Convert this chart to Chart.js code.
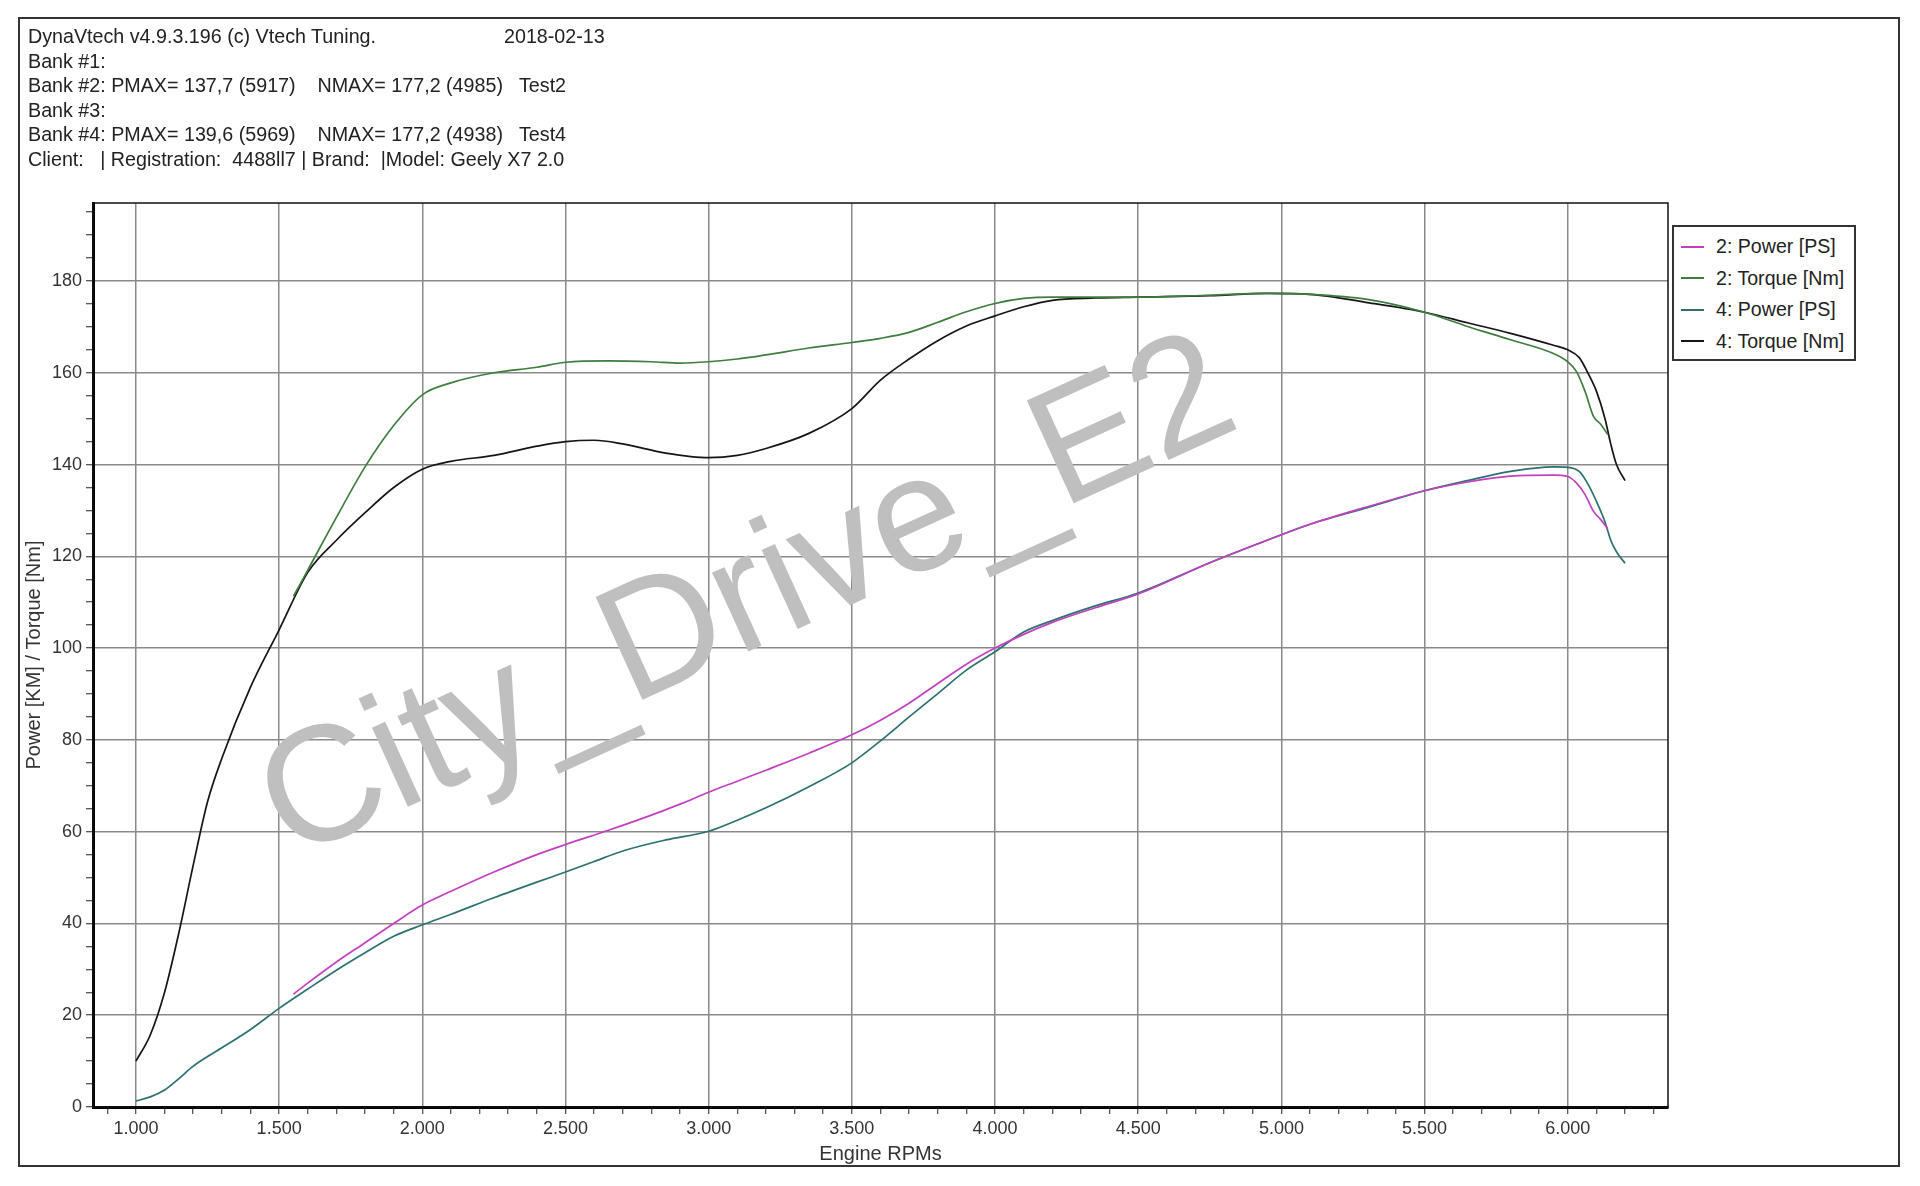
<!DOCTYPE html>
<html>
<head>
<meta charset="utf-8">
<script src="https://cdn.jsdelivr.net/npm/chart.js@4.4.1/dist/chart.umd.min.js"></script>
<style>
  html, body { margin: 0; padding: 0; background: #fff; }
  body { width: 1920px; height: 1186px; position: relative; overflow: hidden;
         font-family: "Liberation Sans", Arial, sans-serif; color: #222; }
  #frame { position: absolute; left: 18px; top: 17px; width: 1882px; height: 1150px;
           border: 2px solid #333; box-sizing: border-box; }
  #wrap { position: absolute; left: 0; top: 0; width: 1920px; height: 1186px; }
  #header { position: absolute; left: 28px; top: 24px; font-size: 19.7px; line-height: 24.5px; white-space: pre; }
  #date { position: absolute; left: 504px; top: 24px; font-size: 19.7px; line-height: 24.5px; }
  #legend { position: absolute; left: 1672px; top: 225px; width: 184px; height: 136px;
            border: 2px solid #333; box-sizing: border-box; padding-top: 4px; background: #fff; }
  .item { height: 31.5px; display: flex; align-items: center; font-size: 19.6px; color: #222; }
  .swatch { width: 23px; height: 0; border-top: 2px solid; margin: 0 12px 0 7px; }
  #mark { position: absolute; left: 744px; top: 592px; transform: translate(-50%, -50%) rotate(-24.5deg);
          font-size: 164px; line-height: 1; color: #bfbfbf; white-space: nowrap; pointer-events: none; }
</style>
</head>
<body>
<div id="wrap"><canvas id="dyno"></canvas></div>
<div id="frame"></div>
<div id="header">DynaVtech v4.9.3.196 (c) Vtech Tuning.
Bank #1:
Bank #2: PMAX= 137,7 (5917)    NMAX= 177,2 (4985)   Test2
Bank #3:
Bank #4: PMAX= 139,6 (5969)    NMAX= 177,2 (4938)   Test4
Client:   | Registration:  4488ll7 | Brand:  |Model: Geely X7 2.0</div>
<div id="date">2018-02-13</div>
<div id="mark">City_Drive_E2</div>
<div id="legend"></div>
<script>
// Test 2 run
const rpm2 = [1550, 1600, 1700, 1800, 1900, 2000, 2100, 2250, 2400, 2500, 2650, 2800, 2900, 3000, 3100,
  3200, 3350, 3500, 3600, 3700, 3800, 3900, 4000, 4100, 4200, 4350, 4500, 4750, 4950, 5100,
  5300, 5500, 5650, 5800, 5950, 6000, 6030, 6060, 6090, 6115, 6140];
const power2 = [24.6, 27, 31.6, 35.8, 40, 44, 47, 51.2, 55, 57.2, 60.3, 63.6, 66, 68.6, 71,
  73.4, 77.1, 81.1, 84.3, 88, 92.3, 96.5, 100, 103, 105.6, 108.8, 111.8, 118.6, 123.5, 127,
  130.8, 134.3, 136.2, 137.5, 137.7, 137.4, 136, 133.5, 129.8, 128, 126];
const torque2 = [111.3, 117, 128.5, 139.5, 148.5, 155.2, 157.8, 160, 161.2, 162.3, 162.6, 162.4, 162.1, 162.4, 163,
  163.9, 165.4, 166.6, 167.5, 168.8, 171, 173.3, 175.1, 176.2, 176.5, 176.5, 176.5, 176.9, 177.3, 177.1,
  176, 173.2, 170.1, 167.2, 164.2, 162.4, 160.3, 156, 150.5, 148.8, 146.5];

// Test 4 run
const rpm4 = [1000, 1050, 1100, 1150, 1200, 1250, 1300, 1400, 1500, 1600, 1700, 1800, 1900, 2000, 2100,
  2250, 2400, 2500, 2600, 2700, 2850, 3000, 3100, 3200, 3350, 3500, 3600, 3700, 3800, 3900,
  4000, 4100, 4200, 4350, 4500, 4750, 4950, 5100, 5300, 5500, 5650, 5800, 5950, 6000, 6040,
  6070, 6100, 6130, 6150, 6170, 6200];
const power4 = [1.3, 2.2, 3.7, 6.2, 8.9, 11, 12.9, 16.9, 21.5, 25.7, 29.8, 33.6, 37.2, 39.7, 42,
  45.6, 49, 51.2, 53.5, 55.8, 58.2, 60.1, 62.5, 65.2, 69.8, 75, 79.8, 85, 90.1, 95.2,
  99.2, 103.5, 106, 109.2, 112, 118.6, 123.5, 127, 130.6, 134.3, 136.5, 138.5, 139.5, 139.4, 138.5,
  135.8, 132, 127.5, 123.5, 121, 118.5];
const torque4 = [10, 15.7, 25, 38, 52.7, 66.5, 76, 91.5, 104, 116.5, 123.5, 129.5, 135, 139, 140.7,
  142, 144, 145, 145.3, 144.5, 142.5, 141.5, 142, 143.5, 146.8, 152.2, 158.4, 163, 167, 170.2,
  172.4, 174.4, 175.8, 176.3, 176.5, 176.8, 177.3, 177.1, 175.3, 173.2, 170.9, 168.6, 166, 165, 163.3,
  160, 156, 150, 144.5, 140, 136.5];

// labelled ticks
const rpmLabels = [1000, 1500, 2000, 2500, 3000, 3500, 4000, 4500, 5000, 5500, 6000];
const yLabels = [0, 20, 40, 60, 80, 100, 120, 140, 160, 180];

const pts = (xs, ys) => xs.map((x, i) => ({ x: x, y: ys[i] }));
const fmtRpm = v => (v / 1000).toFixed(3);

const minorX = [];
for (let v = 900; v <= 6300; v += 100) minorX.push(v);
const minorY = [];
for (let v = 0; v <= 195; v += 5) minorY.push(v);

const tickFont = { family: '"Liberation Sans", Arial, sans-serif', size: 18 };
const titleFont = { family: '"Liberation Sans", Arial, sans-serif', size: 20 };

const plotFrame = {
  id: 'plotFrame',
  beforeDatasetsDraw(chart) {
    const a = chart.chartArea, c = chart.ctx;
    c.save();
    c.strokeStyle = '#111';
    c.lineWidth = 1.5;
    c.strokeRect(a.left, a.top, a.right - a.left, a.bottom - a.top);
    c.restore();
  }
};

const dataDyno = {
  datasets: [
    { label: '2: Power [PS]', data: pts(rpm2, power2), borderColor: '#c040c0' },
    { label: '2: Torque [Nm]', data: pts(rpm2, torque2), borderColor: '#3f7d3f' },
    { label: '4: Power [PS]', data: pts(rpm4, power4), borderColor: '#2d7070' },
    { label: '4: Torque [Nm]', data: pts(rpm4, torque4), borderColor: '#151515' }
  ]
};

const configDyno = {
  type: 'line',
  data: dataDyno,
  plugins: [plotFrame],
  options: {
    responsive: true,
    maintainAspectRatio: false,
    animation: false,
    layout: { padding: { left: 20, top: 203, right: 252, bottom: 20 } },
    elements: {
      point: { radius: 0 },
      line: { borderWidth: 1.7, cubicInterpolationMode: 'monotone', fill: false }
    },
    plugins: { legend: { display: false }, tooltip: { enabled: false } },
    scales: {
      x: {
        type: 'linear',
        min: 850,
        max: 6350,
        afterBuildTicks: s => { s.ticks = minorX.map(v => ({ value: v })); },
        afterFit: s => { s.height = 59; },
        grid: {
          color: ctx => (ctx.tick && rpmLabels.includes(ctx.tick.value)) ? '#8a8a8a' : 'rgba(0,0,0,0)',
          lineWidth: 1.5,
          tickColor: '#222',
          tickLength: 7,
          tickWidth: 1
        },
        border: { color: '#000', width: 3 },
        ticks: {
          autoSkip: false, maxRotation: 0, padding: 4, color: '#333', font: tickFont,
          callback: v => rpmLabels.includes(v) ? fmtRpm(v) : ''
        },
        title: { display: true, text: 'Engine RPMs', color: '#333', font: titleFont, padding: { top: 0, bottom: 0 } }
      },
      y: {
        min: 0,
        max: 197,
        afterBuildTicks: s => { s.ticks = minorY.map(v => ({ value: v })); },
        afterFit: s => { s.width = 73; },
        grid: {
          color: ctx => (ctx.tick && ctx.tick.value > 0 && yLabels.includes(ctx.tick.value)) ? '#8a8a8a' : 'rgba(0,0,0,0)',
          lineWidth: 1.5,
          tickColor: '#222',
          tickLength: 7,
          tickWidth: 1
        },
        border: { color: '#000', width: 3 },
        ticks: {
          autoSkip: false, padding: 4, color: '#333', font: tickFont,
          callback: v => yLabels.includes(v) ? String(v) : ''
        },
        title: { display: true, text: 'Power [KM] / Torque [Nm]', color: '#333', font: titleFont, padding: { top: 2, bottom: 0 } }
      }
    }
  }
};

const chartDyno = new Chart(document.getElementById('dyno'), configDyno);

// legend box built from the chart datasets
const legendBox = document.getElementById('legend');
chartDyno.data.datasets.forEach(ds => {
  const row = document.createElement('div');
  row.className = 'item';
  const sw = document.createElement('span');
  sw.className = 'swatch';
  sw.style.borderTopColor = ds.borderColor;
  row.appendChild(sw);
  row.appendChild(document.createTextNode(ds.label));
  legendBox.appendChild(row);
});
</script>
</body>
</html>
